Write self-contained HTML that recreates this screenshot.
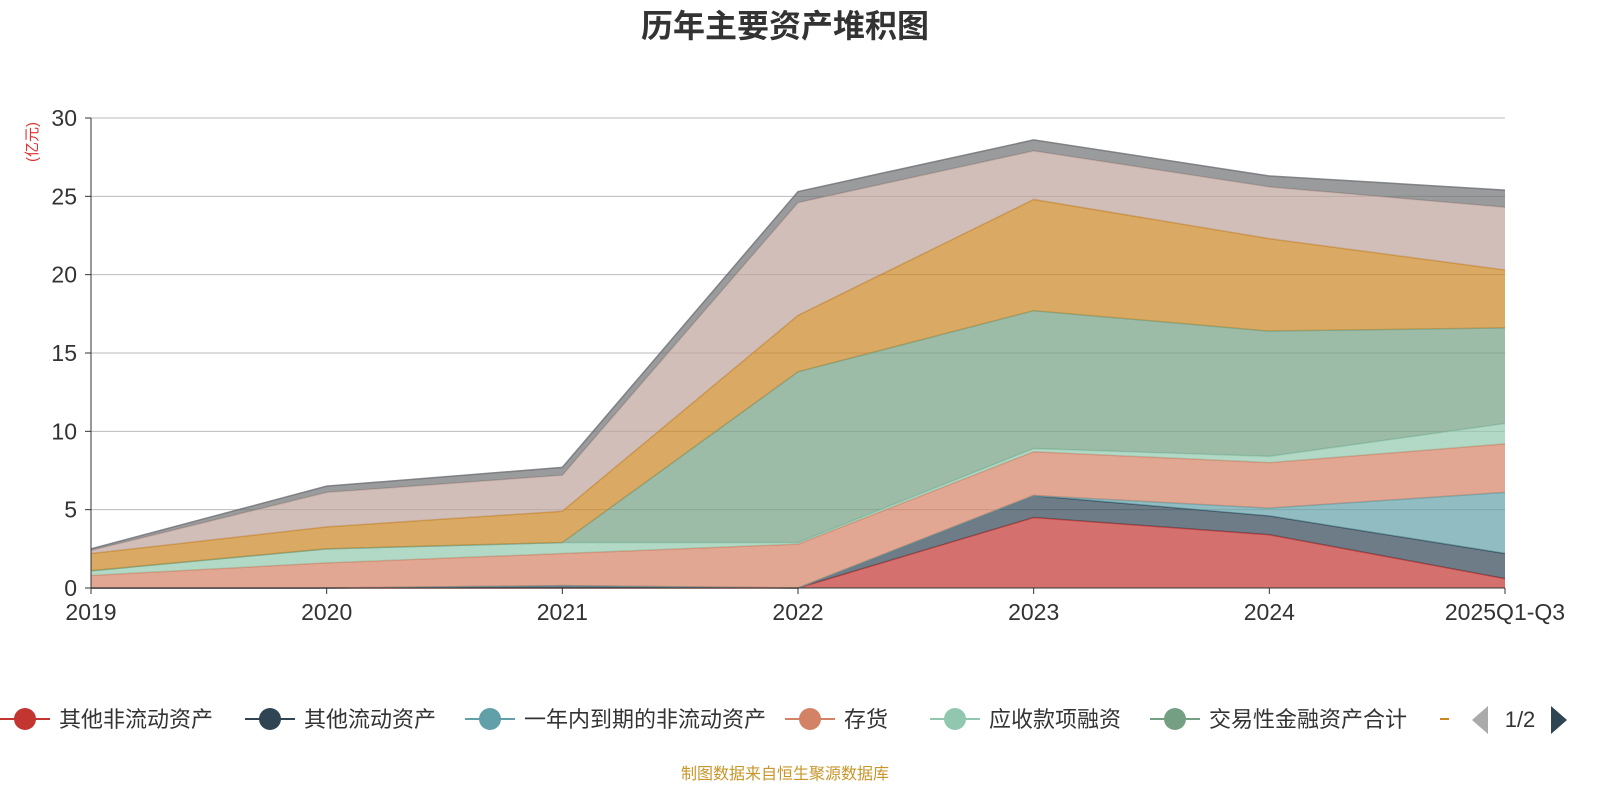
<!DOCTYPE html>
<html><head><meta charset="utf-8"><style>
body{margin:0;background:#fff;font-family:"Liberation Sans","Noto Sans CJK SC",sans-serif;}
svg text{font-family:"Liberation Sans","Noto Sans CJK SC",sans-serif;}
</style></head><body>
<svg id="c" width="1600" height="800">
<text x="785" y="37" text-anchor="middle" font-size="32" font-weight="bold" fill="#333">历年主要资产堆积图</text>
<text transform="translate(37,142) rotate(-90)" text-anchor="middle" font-size="15" fill="#e03030">(亿元)</text>
<g id="grid"></g><g id="areas"></g><g id="axes"></g><g id="legend"></g>
<text x="785" y="779" text-anchor="middle" font-size="16" fill="#c8962a">制图数据来自恒生聚源数据库</text>
</svg>
<script>
const categories=["2019","2020","2021","2022","2023","2024","2025Q1-Q3"];
const seriesNames=["其他非流动资产","其他流动资产","一年内到期的非流动资产","存货","应收款项融资","交易性金融资产合计","应收账款","货币资金","固定资产"];
const s1=[0,0,0,0,4.5,3.4,0.6];
const s2=[0,0,0.15,0,1.4,1.2,1.6];
const s3=[0,0,0,0,0,0.5,3.9];
const s4=[0.8,1.6,2.05,2.8,2.8,2.9,3.1];
const s5=[0.3,0.9,0.7,0.1,0.2,0.4,1.3];
const s6=[0,0,0,10.9,8.8,8.0,6.1];
const s7=[1.1,1.4,2.0,3.6,7.1,5.9,3.7];
const s8=[0.2,2.2,2.3,7.2,3.1,3.3,4.0];
const s9=[0.1,0.4,0.5,0.7,0.7,0.7,1.1];
const yTicks=[0,5,10,15,20,25,30];
const series=[s1,s2,s3,s4,s5,s6,s7,s8,s9];
const colors=["#c23531","#2f4554","#61a0a8","#d48265","#91c7ae","#749f83","#ca8622","#bda29a","#6e7074"];
const NS="http://www.w3.org/2000/svg";
const x0=91,x1=1505,yb=588,yt=118,ymax=30;
const X=i=>x0+i*(x1-x0)/(categories.length-1);
const Y=v=>yb-v*(yb-yt)/ymax;
function mk(t,a,p){const e=document.createElementNS(NS,t);for(const k in a)e.setAttribute(k,a[k]);p.appendChild(e);return e;}
const grid=document.getElementById('grid'),axes=document.getElementById('axes'),areas=document.getElementById('areas'),legend=document.getElementById('legend');
yTicks.forEach(v=>{
 if(v>0){const l=mk('line',{x1:x0,x2:x1,y1:Y(v),y2:Y(v),stroke:'#bbb','stroke-width':1},grid);
 
 }
 const t=mk('text',{x:x0-14,y:Y(v)+8,'text-anchor':'end','font-size':23,fill:'#333'},axes);t.textContent=v;
 
 
 mk('line',{x1:x0-6,x2:x0,y1:Y(v),y2:Y(v),stroke:'#333'},axes);
});
let base=categories.map(()=>0);
series.forEach((s,k)=>{
 const top=base.map((b,i)=>b+s[i]);
 let d='M'+top.map((v,i)=>X(i)+','+Y(v)).join('L');
 for(let i=base.length-1;i>=0;i--)d+='L'+X(i)+','+Y(base[i]);
 const p=mk('path',{d:d+'Z',fill:colors[k],'fill-opacity':0.7,stroke:'none'},areas);
 
 
 const ln=mk('polyline',{points:top.map((v,i)=>X(i)+','+Y(v)).join(' '),fill:'none',stroke:colors[k],'stroke-opacity':0.8,'stroke-width':1.5},areas);
 
 
 base=top;
});
mk('line',{x1:x0,x2:x0,y1:yt,y2:yb,stroke:'#333'},axes);
mk('line',{x1:x0,x2:x1,y1:yb,y2:yb,stroke:'#333'},axes);
categories.forEach((c,i)=>{
 mk('line',{x1:X(i),x2:X(i),y1:yb,y2:yb+6,stroke:'#333'},axes);
 const t=mk('text',{x:X(i),y:620,'text-anchor':'middle','font-size':23,fill:'#333'},axes);t.textContent=c;
 
 
});
const lx=[0,245,465,785,930,1150,1440];
for(let k=0;k<7;k++){
 const g=mk('g',{},legend);
 
 
 const x=lx[k];
 mk('line',{x1:x,x2:x+50,y1:719,y2:719,stroke:colors[k],'stroke-width':2},g);
 if(k<6){mk('circle',{cx:x+25,cy:719,r:11,fill:colors[k]},g);
 const t=mk('text',{x:x+59,y:727,'font-size':22,fill:'#333'},g);t.textContent=seriesNames[k];}
 else{g.lastChild.setAttribute('x2',x+9);}
}
const pg=mk('g',{},legend);


mk('polygon',{points:'1488,706 1488,734 1472,720',fill:'#aaa'},pg);
const pt=mk('text',{x:1520,y:727,'text-anchor':'middle','font-size':22,fill:'#333'},pg);pt.textContent='1/2';
mk('polygon',{points:'1551,706 1551,734 1567,720',fill:'#2f4554'},pg);
</script>
</body></html>
